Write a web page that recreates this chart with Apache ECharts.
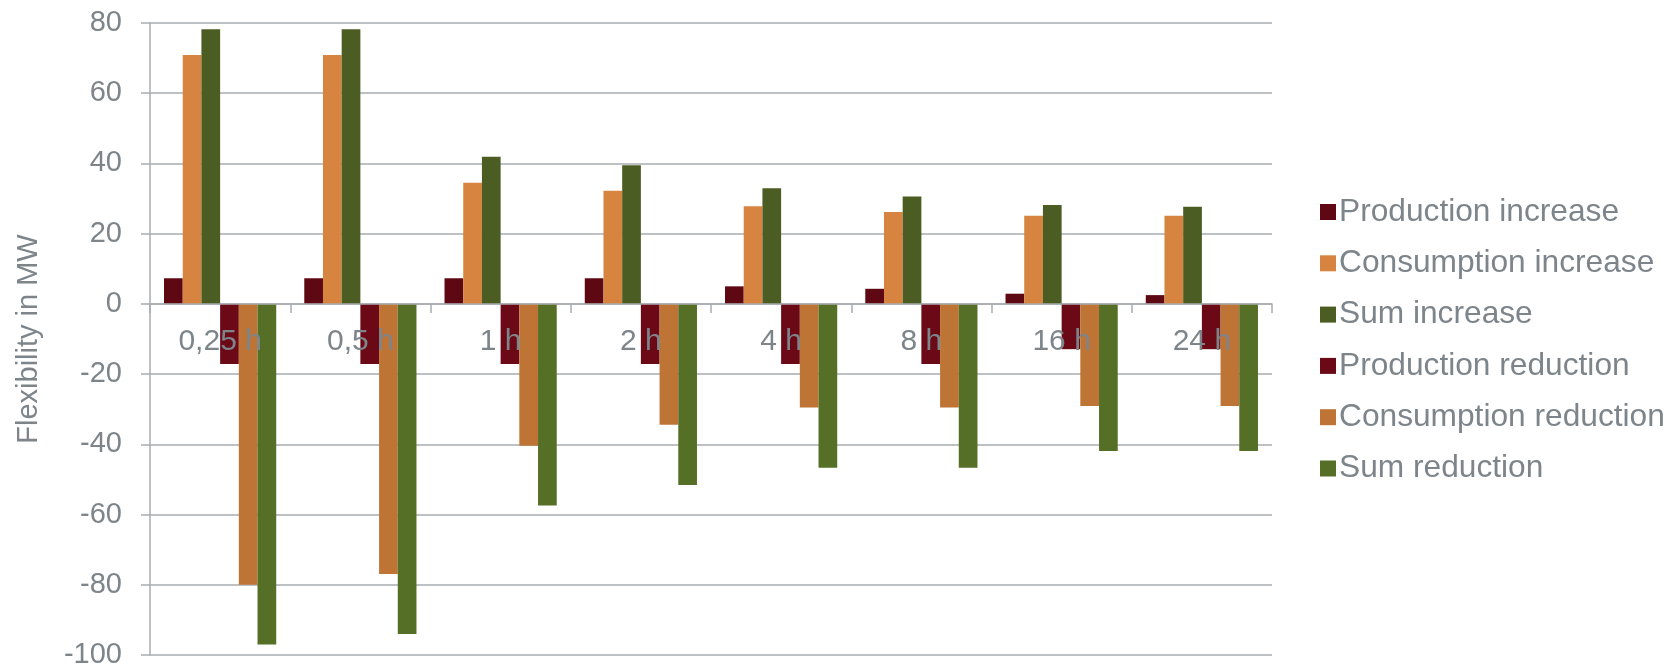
<!DOCTYPE html>
<html>
<head>
<meta charset="utf-8">
<script src="https://cdn.jsdelivr.net/npm/echarts@6/dist/echarts.min.js"></script>
<style>html,body{margin:0;padding:0;background:#fff}#c{width:1678px;height:667px}</style>
</head>
<body>
<div id="c"></div>
<script>
const categories = ['0,25 h', '0,5 h', '1 h', '2 h', '4 h', '8 h', '16 h', '24 h'];
const productionIncrease = [7.3, 7.3, 7.3, 7.3, 5.0, 4.3, 2.9, 2.5];
const consumptionIncrease = [70.9, 70.9, 34.5, 32.2, 27.8, 26.2, 25.1, 25.1];
const sumIncrease = [78.2, 78.2, 41.9, 39.5, 32.9, 30.6, 28.2, 27.7];
const productionReduction = [-17.1, -17.1, -17.1, -17.1, -17.1, -17.1, -12.9, -12.9];
const consumptionReduction = [-80.0, -76.9, -40.4, -34.4, -29.5, -29.5, -29.1, -29.1];
const sumReduction = [-97.0, -94.0, -57.4, -51.6, -46.7, -46.7, -41.9, -41.9];
const yTicks = { min: -100, max: 80, interval: 20 };

const seriesDefs = [
  ['Production increase', productionIncrease, '#5e0813'],
  ['Consumption increase', consumptionIncrease, '#d6843f'],
  ['Sum increase', sumIncrease, '#4b5d22'],
  ['Production reduction', productionReduction, '#6b0917'],
  ['Consumption reduction', consumptionReduction, '#be7435'],
  ['Sum reduction', sumReduction, '#556f27']
];

const textColor = '#7d858b';
const lineColor = '#a9acaf';
const font = '"Liberation Sans", Arial, sans-serif';

const W = 1678, H = 667;
const gridTop = 23, gridBottom = 12;
const plotH = H - gridTop - gridBottom;
// x axis sits at value 0: shift it up from the bottom of the grid by the share of the range below zero
const zeroOffset = -plotH * (0 - yTicks.min) / (yTicks.max - yTicks.min);

const chart = echarts.init(document.getElementById('c'), null, { renderer: 'canvas' });
chart.setOption({
  animation: false,
  backgroundColor: '#fff',
  grid: { left: 150, right: 406, top: gridTop, bottom: gridBottom, containLabel: false, outerBoundsMode: 'none' },
  legend: {
    orient: 'vertical',
    left: 1315,
    top: 189,
    itemWidth: 16,
    itemHeight: 16,
    itemGap: 15.3,
    icon: 'rect',
    textStyle: { color: textColor, fontSize: 31.7, fontFamily: font, lineHeight: 36, padding: [0, 0, 0, -2] },
    data: seriesDefs.map(s => s[0])
  },
  xAxis: {
    type: 'category',
    data: categories,
    position: 'bottom',
    offset: zeroOffset,
    z: 10,
    axisLine: { onZero: false, lineStyle: { color: lineColor, width: 1.5 } },
    axisTick: { show: true, length: 9, lineStyle: { color: lineColor, width: 1.5 } },
    axisLabel: { color: textColor, fontSize: 30, fontFamily: font, margin: 23 },
    splitLine: { show: false }
  },
  yAxis: {
    type: 'value',
    min: yTicks.min,
    max: yTicks.max,
    interval: yTicks.interval,
    name: 'Flexibility in MW',
    nameLocation: 'middle',
    nameGap: 107,
    nameTextStyle: { color: textColor, fontSize: 29, fontFamily: font },
    axisLine: { show: true, lineStyle: { color: lineColor, width: 1.5 } },
    axisTick: { show: true, length: 9, lineStyle: { color: lineColor, width: 1.5 } },
    axisLabel: { color: textColor, fontSize: 29, fontFamily: font, margin: 28 },
    splitLine: { show: true, lineStyle: { color: lineColor, width: 1.5 } }
  },
  series: seriesDefs.map(([name, data, color]) => ({
    name,
    type: 'bar',
    data,
    barGap: '0%',
    barCategoryGap: '20%',
    itemStyle: { color },
    emphasis: { disabled: true }
  }))
});
</script>
</body>
</html>
